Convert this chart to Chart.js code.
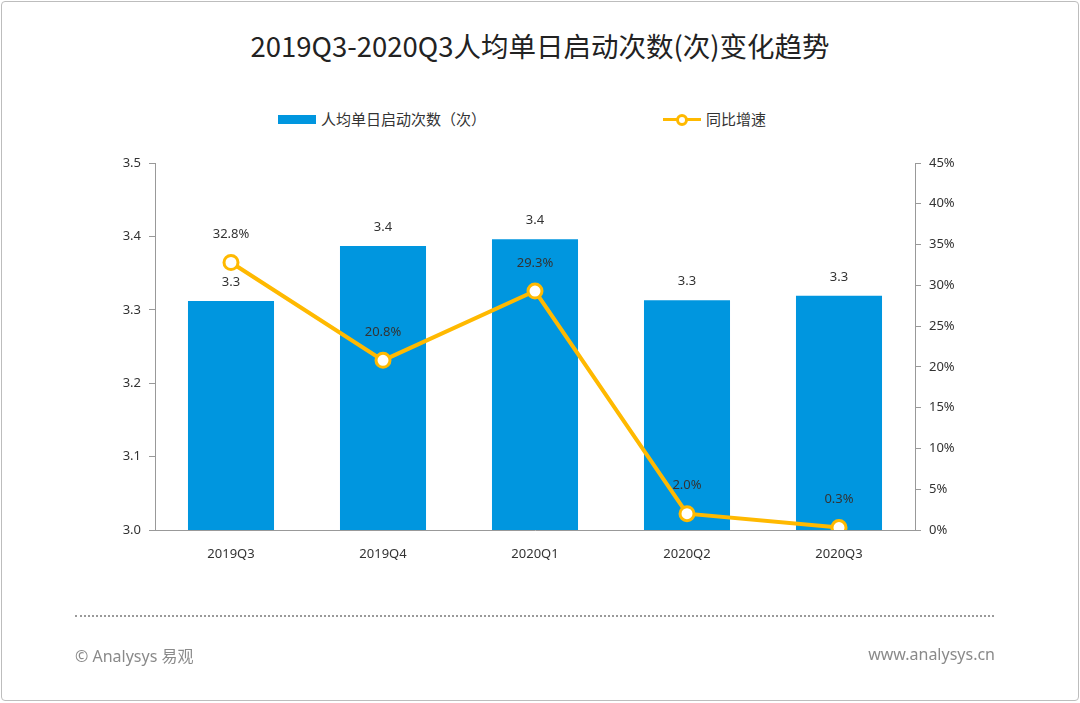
<!DOCTYPE html>
<html>
<head>
<meta charset="utf-8">
<script src="https://cdn.jsdelivr.net/npm/chart.js@4.4.0/dist/chart.umd.min.js"></script>
<style>
  html, body { margin: 0; padding: 0; background: #fff; }
  body { width: 1080px; height: 703px; position: relative; overflow: hidden;
         font-family: "Noto Sans", "Noto Sans CJK SC", sans-serif; }
  #frame { position: absolute; left: 1px; top: 1px; width: 1076px; height: 698px;
           border: 1px solid #bdbdbd; border-radius: 4px; }
  #title { position: absolute; top: 27px; left: 0; width: 1080px; text-align: center;
           font-family: "Noto Sans CJK SC", sans-serif; font-size: 27.5px; line-height: 36px; color: #222; }
  .legend { position: absolute; top: 108px; font-family: "Noto Sans CJK SC", sans-serif;
            font-size: 15px; line-height: 22px; color: #333; display: flex; align-items: center; }
  .legend .box { width: 38px; height: 9px; background: #0096df; margin-right: 5px; }
  .legend .ln { width: 38px; height: 3px; background: #ffb900; margin-right: 5px; position: relative; }
  .legend .ln::after { content: ""; position: absolute; left: 13px; top: -4px; width: 6px; height: 6px;
                       border: 3px solid #ffb900; border-radius: 50%; background: #fff; }
  #chartWrap { position: absolute; left: 0; top: 0; width: 1080px; height: 703px; }
  #dots { position: absolute; left: 75px; top: 615px; width: 919px; border-top: 2px dotted #9a9a9a; }
  .foot { position: absolute; top: 643px; font-size: 16px; color: #8a8a8a; }
</style>
</head>
<body>
<div id="frame"></div>
<div id="title">2019Q3-2020Q3人均单日启动次数(次)变化趋势</div>
<div class="legend" style="left:278px"><span class="box"></span>人均单日启动次数（次）</div>
<div class="legend" style="left:663px"><span class="ln"></span>同比增速</div>
<div id="chartWrap"><canvas id="c"></canvas></div>
<div id="dots"></div>
<div class="foot" style="left:75px">© Analysys 易观</div>
<div class="foot" style="right:85px">www.analysys.cn</div>
<script>
// quarters and values
const quarters = ['2019Q3', '2019Q4', '2020Q1', '2020Q2', '2020Q3'];
const launches = [3.312, 3.387, 3.396, 3.313, 3.319];   // 人均单日启动次数
const growth = [32.8, 20.8, 29.3, 2.0, 0.3];              // 同比增速 (%)

const BLUE = '#0096df';
const GOLD = '#ffb900';

Chart.defaults.font.family = '"Noto Sans", "Noto Sans CJK SC", sans-serif';

// value labels above bars (dataset 1) and points (dataset 0)
const valueLabels = {
  id: 'valueLabels',
  afterDatasetsDraw(chart) {
    const ctx = chart.ctx;
    ctx.save();
    ctx.font = '13px "Noto Sans", sans-serif';
    ctx.fillStyle = '#333';
    ctx.textAlign = 'center';
    ctx.textBaseline = 'middle';
    chart.getDatasetMeta(1).data.forEach((el, i) => {
      ctx.fillText(launches[i].toFixed(1), el.x, el.y - 19);
    });
    chart.getDatasetMeta(0).data.forEach((el, i) => {
      ctx.fillText(growth[i].toFixed(1) + '%', el.x, el.y - 28);
    });
    ctx.restore();
  }
};

const ctx = document.getElementById('c').getContext('2d');
new Chart(ctx, {
  data: {
    labels: quarters,
    datasets: [
      { type: 'line', label: '同比增速', data: growth, yAxisID: 'y1',
        borderColor: GOLD, borderWidth: 4, pointRadius: 7, pointBorderWidth: 3,
        pointBackgroundColor: '#fff', pointBorderColor: GOLD, order: 0, tension: 0 },
      { type: 'bar', label: '人均单日启动次数（次）', data: launches, yAxisID: 'y',
        backgroundColor: BLUE, categoryPercentage: 1, barPercentage: 0.566, order: 1 }
    ]
  },
  options: {
    responsive: true,
    maintainAspectRatio: false,
    animation: false,
    layout: { padding: { left: 0, right: 0, top: 163, bottom: 133 } },
    plugins: { legend: { display: false }, tooltip: { enabled: false } },
    scales: {
      x: {
        grid: { display: false },
        border: { color: '#999' },
        ticks: { color: '#333', font: { size: 13 }, padding: 8 },
        afterFit(s) { s.height = 40; }
      },
      y: {
        position: 'left', min: 3.0, max: 3.5,
        grid: { drawOnChartArea: false, tickLength: 6, color: '#999' },
        border: { color: '#999' },
        ticks: { stepSize: 0.1, color: '#333', font: { size: 13 }, padding: 8,
                 callback: v => v.toFixed(1) },
        afterFit(s) { s.width = 155; }
      },
      y1: {
        position: 'right', min: 0, max: 45,
        grid: { drawOnChartArea: false, tickLength: 6, color: '#999' },
        border: { color: '#999' },
        ticks: { stepSize: 5, color: '#333', font: { size: 13 }, padding: 8,
                 callback: v => v + '%' },
        afterFit(s) { s.width = 165; }
      }
    }
  },
  plugins: [valueLabels]
});
</script>
</body>
</html>
